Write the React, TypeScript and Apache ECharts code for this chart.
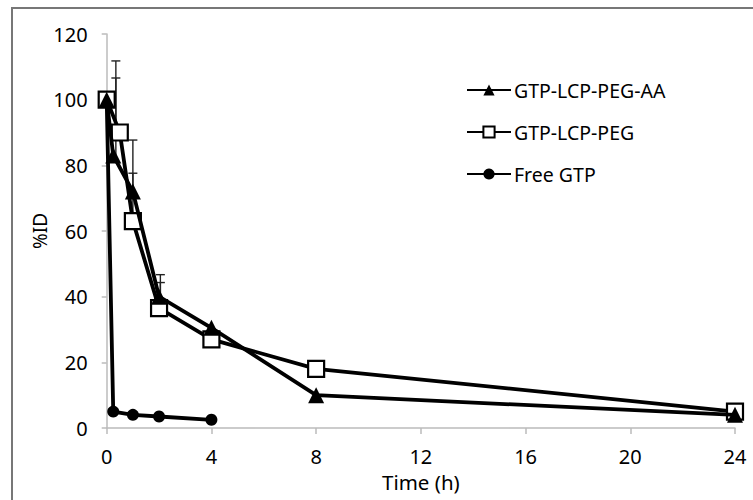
import React, { useEffect, useRef } from "react";
import * as echarts from "echarts";

const seriesNames = ["GTP-LCP-PEG-AA", "GTP-LCP-PEG", "Free GTP"];
const timesAA = [0, 0.25, 1, 2, 4, 8, 24];
const valuesAA = [100, 83, 72, 40, 30.5, 10, 4];
const timesPEG = [0, 0.5, 1, 2, 4, 8, 24];
const valuesPEG = [100, 90, 63, 36.5, 27, 18, 5];
const timesFree = [0, 0.25, 1, 2, 4];
const valuesFree = [100, 5, 4, 3.5, 2.5];
// error bars: [time, base value, upper value]
const errorBars: [number, number, number][] = [
  [0.35, 90, 111.8],
  [0.35, 83, 106.6],
  [1, 72, 87.7],
  [1, 63, 77.6],
  [2.05, 40, 46.7],
  [2.05, 36.5, 44.3],
];
const xTicks = [0, 4, 8, 12, 16, 20, 24];
const yTicks = [0, 20, 40, 60, 80, 100, 120];

const FONT = "Noto Sans";

const zip = (xs: number[], ys: number[]) => xs.map((x, i) => [x, ys[i]]);

export default function App() {
  const ref = useRef<HTMLDivElement>(null);
  useEffect(() => {
    if (!ref.current) return;
    const chart = echarts.init(ref.current, null, { renderer: "svg" });
    const lineW = 3.8;
    chart.setOption({
      animation: false,
      backgroundColor: "#fff",
      textStyle: { fontFamily: FONT },
      graphic: [
        {
          type: "rect",
          shape: { x: 12, y: 8, width: 745, height: 510 },
          style: { fill: "none", stroke: "#777", lineWidth: 2 },
          silent: true,
          z: 0,
        },
      ],
      legend: {
        data: seriesNames,
        orient: "vertical",
        left: 461,
        top: 74,
        itemWidth: 44,
        itemHeight: 14,
        itemGap: 20,
        textStyle: { fontFamily: FONT, fontSize: 19.5, lineHeight: 22, color: "#000", padding: [0, 0, 0, -2] },
      },
      grid: { left: 106.7, right: 18, top: 34, bottom: 72, containLabel: false },
      xAxis: {
        type: "value",
        min: xTicks[0],
        max: xTicks[xTicks.length - 1],
        interval: 4,
        name: "Time (h)",
        nameLocation: "middle",
        nameGap: 43,
        nameTextStyle: { fontFamily: FONT, fontSize: 20.5, color: "#000" },
        axisLine: { show: true, lineStyle: { color: "#bbb", width: 1.5 } },
        axisTick: { show: true, length: 6, lineStyle: { color: "#bbb", width: 1.5 } },
        axisLabel: { fontFamily: FONT, fontSize: 20, color: "#000", margin: 18 },
        splitLine: { show: false },
      },
      yAxis: {
        type: "value",
        min: yTicks[0],
        max: yTicks[yTicks.length - 1],
        interval: 20,
        name: "%ID",
        nameLocation: "middle",
        nameGap: 57,
        nameMoveOverlap: false,
        nameRotate: 90,
        nameTextStyle: { fontFamily: FONT, fontSize: 19, color: "#000" },
        axisLine: { show: true, lineStyle: { color: "#bbb", width: 1.5 } },
        axisTick: { show: true, length: 5, lineStyle: { color: "#bbb", width: 1.5 } },
        axisLabel: { fontFamily: FONT, fontSize: 20, color: "#000", margin: 19 },
        splitLine: { show: false },
      },
      series: [
        {
          type: "custom",
          name: "errors",
          data: errorBars,
          z: 1,
          renderItem: (params: any, api: any) => {
            const p0 = api.coord([api.value(0), api.value(1)]);
            const p1 = api.coord([api.value(0), api.value(2)]);
            const hw = 4.5;
            const style = { stroke: "#222", lineWidth: 1.4 };
            return {
              type: "group",
              children: [
                { type: "line", shape: { x1: p0[0], y1: p0[1], x2: p1[0], y2: p1[1] }, style },
                { type: "line", shape: { x1: p1[0] - hw, y1: p1[1], x2: p1[0] + hw, y2: p1[1] }, style },
              ],
            };
          },
        },
        {
          type: "line",
          name: "Free GTP",
          data: zip(timesFree, valuesFree),
          symbol: "circle",
          symbolSize: 12,
          lineStyle: { color: "#000", width: lineW },
          itemStyle: { color: "#000" },
          z: 2,
        },
        {
          type: "line",
          name: "GTP-LCP-PEG",
          data: zip(timesPEG, valuesPEG),
          symbol: "rect",
          symbolSize: 16,
          lineStyle: { color: "#000", width: lineW },
          itemStyle: { color: "#fff", borderColor: "#000", borderWidth: 2.2 },
          z: 3,
        },
        {
          type: "line",
          name: "GTP-LCP-PEG-AA",
          data: zip(timesAA, valuesAA),
          symbol: "triangle",
          symbolSize: 16,
          lineStyle: { color: "#000", width: lineW },
          itemStyle: { color: "#000" },
          z: 4,
        },
      ],
    });
    return () => chart.dispose();
  }, []);
  return (
    <div
      ref={ref}
      style={{ position: "fixed", left: 0, top: 0, width: 753, height: 500 }}
    />
  );
}
